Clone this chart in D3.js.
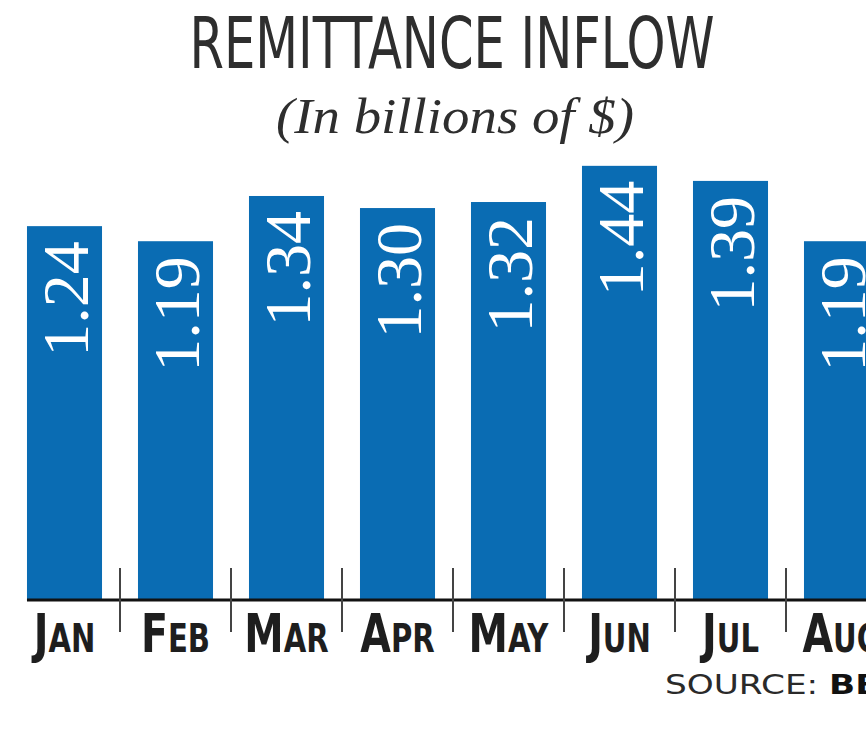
<!DOCTYPE html>
<html>
<head>
<meta charset="utf-8">
<script src="https://cdn.jsdelivr.net/npm/d3@7"></script>
<style>
  html, body { margin: 0; padding: 0; background: #fff; overflow: hidden; }
  svg { display: block; }
</style>
</head>
<body>
<svg id="chart" width="866" height="735"></svg>
<script>
// ---- data ----
const months = ["JAN", "FEB", "MAR", "APR", "MAY", "JUN", "JUL", "AUG"];
const values = [1.24, 1.19, 1.34, 1.30, 1.32, 1.44, 1.39, 1.19];
const valueLabels = ["1.24", "1.19", "1.34", "1.30", "1.32", "1.44", "1.39", "1.19"];
const titleText = "REMITTANCE INFLOW";
const subtitleText = "(In billions of $)";
const sourceLabel = "SOURCE: ";
const sourceName = "BB";

const W = 866, H = 735;
const baseline = 600;
const svg = d3.select("#chart");

const x = d3.scaleBand()
  .domain(months)
  .range([9, 897])
  .paddingInner(0.324)
  .paddingOuter(0.162);

const y = d3.scaleLinear()
  .domain([0, 1.44])
  .range([baseline, baseline - 1.44 * 301.5]);

const blue = "#0a6cb3";

// title
svg.append("text")
  .attr("x", 452).attr("y", 68)
  .attr("text-anchor", "middle")
  .attr("font-family", "'Liberation Sans Narrow', 'DejaVu Sans Condensed', 'Liberation Sans', sans-serif")
  .attr("font-size", 72)
  .attr("font-weight", 300)
  .attr("fill", "#2e2e2e")
  .attr("textLength", 525)
  .attr("lengthAdjust", "spacingAndGlyphs")
  .text(titleText);

svg.append("text")
  .attr("x", 455).attr("y", 133)
  .attr("text-anchor", "middle")
  .attr("font-family", "'Liberation Serif', 'DejaVu Serif', serif")
  .attr("font-style", "italic")
  .attr("font-size", 50)
  .attr("fill", "#2e2e2e")
  .attr("textLength", 358)
  .attr("lengthAdjust", "spacingAndGlyphs")
  .text(subtitleText);

// bars
svg.append("g").selectAll("rect")
  .data(months)
  .join("rect")
  .attr("x", d => x(d))
  .attr("width", x.bandwidth())
  .attr("y", (d, i) => y(values[i]))
  .attr("height", (d, i) => baseline - y(values[i]))
  .attr("fill", blue);

// value labels (rotated)
svg.append("g").selectAll("text")
  .data(months)
  .join("text")
  .attr("transform", (d, i) => `translate(${x(d) + x.bandwidth() / 2 + 1},${y(values[i]) + 15}) rotate(-90)`)
  .attr("text-anchor", "end")
  .attr("dy", "0.34em")
  .attr("font-family", "'Liberation Serif', 'DejaVu Serif', serif")
  .attr("font-size", 66)
  .attr("fill", "#ffffff")
  .text((d, i) => valueLabels[i]);

// axis line
svg.append("line")
  .attr("x1", x(months[0])).attr("x2", W)
  .attr("y1", baseline).attr("y2", baseline)
  .attr("stroke", "#111").attr("stroke-width", 3);

// separators between months
const step = x.step();
const gap = step * x.paddingInner();
svg.append("g").selectAll("line")
  .data(months.slice(1))
  .join("line")
  .attr("x1", d => x(d) - gap / 2)
  .attr("x2", d => x(d) - gap / 2)
  .attr("y1", 568).attr("y2", 632)
  .attr("stroke", "#444").attr("stroke-width", 2);

// month labels (small caps style, condensed)
const ml = svg.append("g").selectAll("text")
  .data(months)
  .join("text")
  .attr("transform", d => `translate(${x(d) + x.bandwidth() / 2},652) scale(0.83,1)`)
  .attr("text-anchor", "middle")
  .attr("font-family", "'Liberation Sans Narrow', 'DejaVu Sans Condensed', 'Liberation Sans', sans-serif")
  .attr("font-weight", "bold")
  .attr("fill", "#1e1e1e");
ml.append("tspan").attr("font-size", 53).text(d => d[0]);
ml.append("tspan").attr("font-size", 39).text(d => d.slice(1));

// source
const src = svg.append("text")
  .attr("transform", "translate(665,694) scale(1.27,1)")
  .attr("font-family", "'DejaVu Sans', Verdana, sans-serif")
  .attr("font-size", 27)
  .attr("fill", "#2a2a2a");
src.append("tspan").text(sourceLabel);
src.append("tspan").attr("font-weight", "bold").attr("fill", "#111").text(sourceName);
</script>
</body>
</html>
